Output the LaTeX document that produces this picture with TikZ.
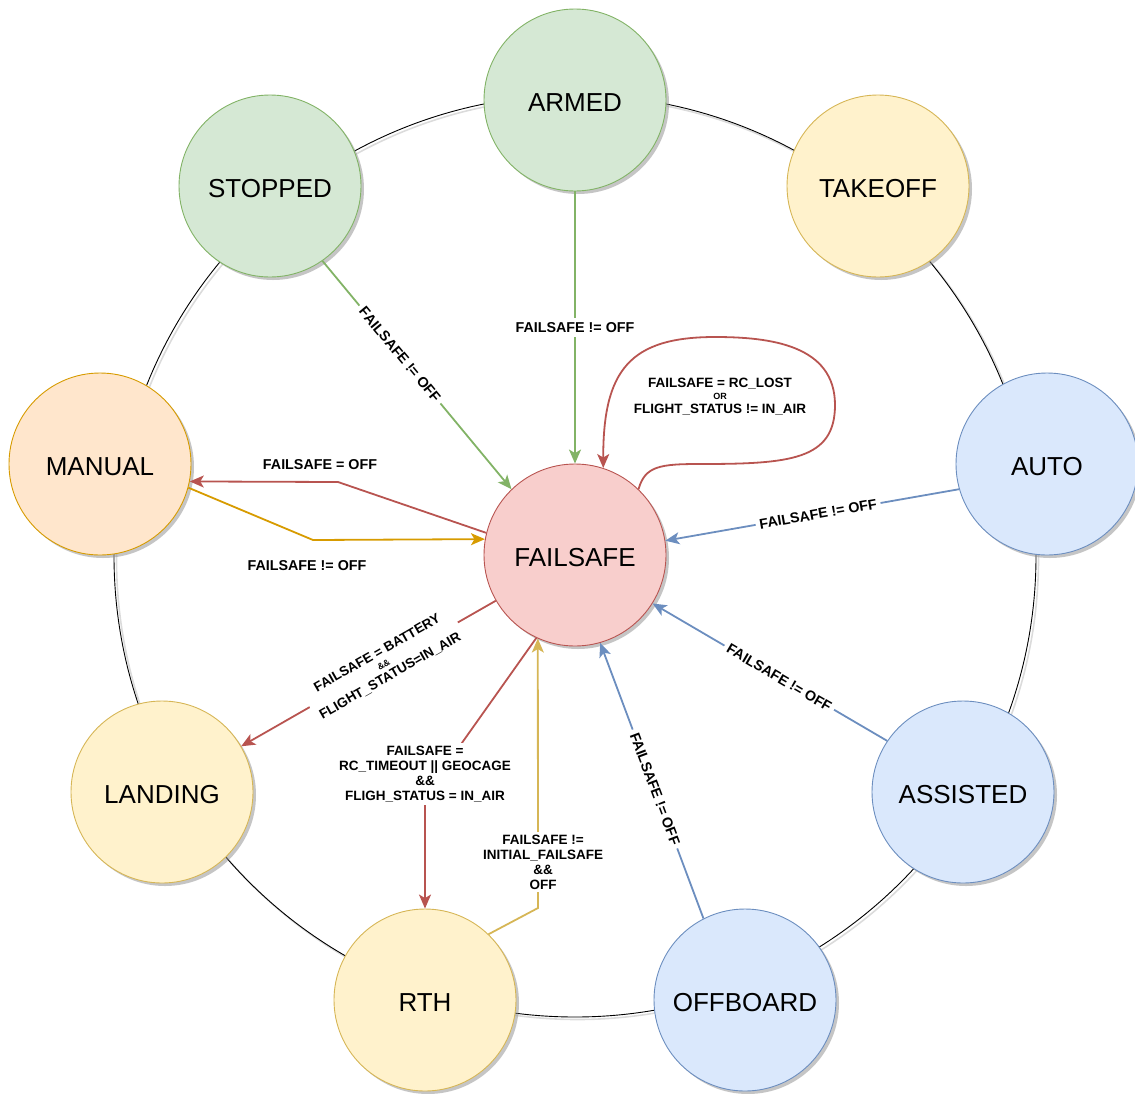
\documentclass[tikz,border=0pt]{standalone}
\usepackage{fontspec}
\setmainfont{Liberation Sans}
\usetikzlibrary{shadows,arrows.meta}
\definecolor{grnF}{HTML}{D5E8D4}\definecolor{grnS}{HTML}{82B366}
\definecolor{yelF}{HTML}{FFF2CC}\definecolor{yelS}{HTML}{D6B656}
\definecolor{orgF}{HTML}{FFE6CC}\definecolor{orgS}{HTML}{D79B00}
\definecolor{bluF}{HTML}{DAE8FC}\definecolor{bluS}{HTML}{6C8EBF}
\definecolor{redF}{HTML}{F8CECC}\definecolor{redS}{HTML}{B85450}
\begin{document}
\begin{tikzpicture}[x=1pt,y=-1pt,
  state/.style={circle, minimum size=182pt, inner sep=0pt, draw, line width=0.9pt,
    font=\fontsize{26}{30}\selectfont, text depth=0pt, text height=22pt,
    drop shadow={shadow xshift=3pt, shadow yshift=-3pt, fill=black!45, opacity=0.5}},
  green state/.style={state, fill=grnF, draw=grnS},
  yellow state/.style={state, fill=yelF, draw=yelS},
  orange state/.style={state, fill=orgF, draw=orgS},
  blue state/.style={state, fill=bluF, draw=bluS},
  red state/.style={state, fill=redF, draw=redS},
  trans/.style={line width=1.8pt, -{Stealth[length=14pt,width=12pt,inset=3.5pt]}},
  lbl/.style={font=\bfseries\fontsize{13.5}{15}\selectfont, align=center, inner sep=2pt, text=black},
  lblw/.style={lbl, fill=white, inner sep=4pt},
  one/.style={font=\bfseries\fontsize{14.3}{16}\selectfont}
]
\useasboundingbox (0,0) rectangle (1135,1093);

% outer ring with its shadow
\draw[black!40, opacity=0.35, line width=1.6pt] (577.5,558.5) circle[radius=461pt];
\draw[line width=0.9pt] (575,556) circle[radius=461pt];

% states
\node[green state]  (armed)    at (575,100)  {ARMED};
\node[green state]  (stopped)  at (270,186)  {STOPPED};
\node[yellow state] (takeoff)  at (878,186)  {TAKEOFF};
\node[orange state] (manual)   at (100,464)  {MANUAL};
\node[blue state]   (auto)     at (1047,464) {AUTO};
\node[red state]    (failsafe) at (575,555)  {FAILSAFE};
\node[yellow state] (landing)  at (162,792)  {LANDING};
\node[blue state]   (assisted) at (963,792)  {ASSISTED};
\node[yellow state] (rth)      at (425,1000) {RTH};
\node[blue state]   (offboard) at (745,1000) {OFFBOARD};

% bend points
\coordinate (offBend)  at (338,482);
\coordinate (manBend)  at (313,540);
\coordinate (rthBend)  at (425,795);
\coordinate (backBend) at (538,908);

% transitions into FAILSAFE
\draw[trans, grnS] (armed) -- node[lblw, one, pos=0.5] {FAILSAFE != OFF} (failsafe);
\draw[trans, grnS] (stopped.-55) -- node[lblw, one, sloped, pos=0.41] {FAILSAFE != OFF} (failsafe.134);
\draw[trans, bluS] (auto.196) -- node[lblw, one, sloped, pos=0.48] {FAILSAFE != OFF} (failsafe.9);
\draw[trans, bluS] (assisted.146) -- node[lblw, one, sloped, pos=0.46] {FAILSAFE != OFF} (failsafe.-32);
\draw[trans, bluS] (offboard.117) -- node[lblw, one, sloped, pos=0.47] {FAILSAFE != OFF} (failsafe.-74);
\draw[trans, orgS] (manual.-15) -- (manBend) -- (failsafe.170.5);
\node[lbl, one] (lblManIn) at (307,566) {FAILSAFE != OFF};

% self loop
\draw[trans, redS] (failsafe.46) .. controls (645,466) and (660,464) .. (700,464)
  .. controls (790,464) and (835,460) .. (835,405)
  .. controls (835,345) and (770,337) .. (715,337)
  .. controls (630,337) and (603,370) .. (failsafe.72);
\node[lbl] (lblLoop) at (720,397) {FAILSAFE = RC\_LOST\\[-3pt]{\bfseries\fontsize{9}{10}\selectfont OR}\\[-1pt]FLIGHT\_STATUS != IN\_AIR};

% transitions out of FAILSAFE
\draw[trans, redS] (failsafe.166) -- (offBend) -- (manual.-11);
\node[lbl, one] (lblManOut) at (320,465) {FAILSAFE = OFF};

\draw[trans, redS] (failsafe.210) -- node[lblw, sloped, pos=0.44, inner sep=5pt]
  {FAILSAFE = BATTERY\\[-3pt]{\fontsize{9}{10}\selectfont\bfseries \&\&}\\[-1pt]FLIGHT\_STATUS=IN\_AIR} (landing.30);

\draw[trans, redS] (failsafe.-115) -- (rthBend) -- (rth.north);
\node[lblw, inner sep=3pt] (lblRth) at (425,774)
  {FAILSAFE =\\RC\_TIMEOUT || GEOCAGE\\\&\&\\FLIGH\_STATUS = IN\_AIR};

\draw[trans, yelS] (rth.46) -- (backBend) -- (failsafe.-114);
\node[lblw, inner sep=3pt] (lblBack) at (543,862)
  {FAILSAFE !=\\INITIAL\_FAILSAFE\\\&\&\\OFF};
\end{tikzpicture}
\end{document}
